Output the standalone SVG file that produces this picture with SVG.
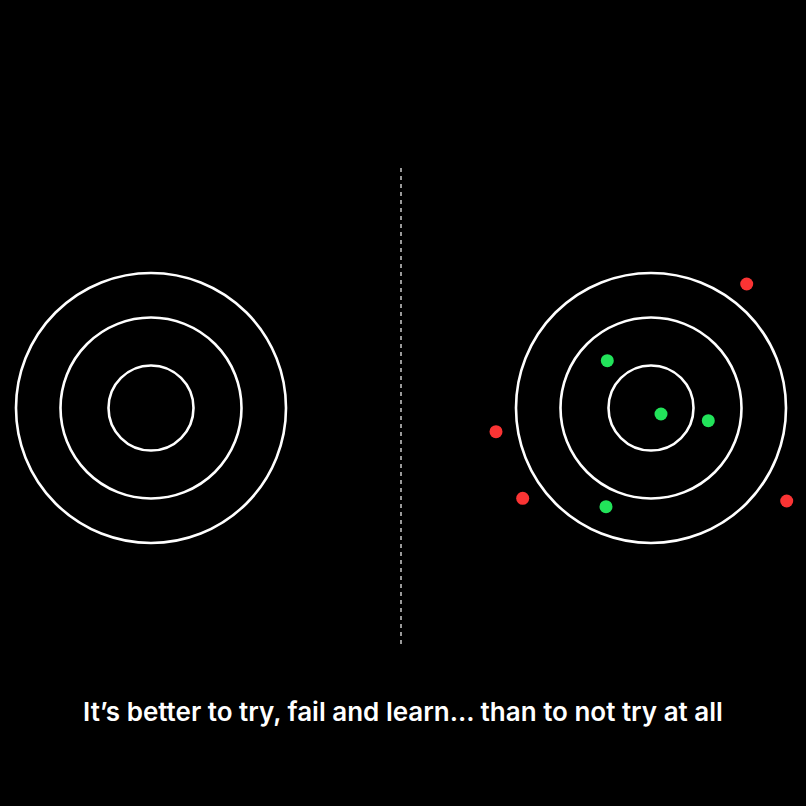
<svg xmlns="http://www.w3.org/2000/svg" width="806" height="806" viewBox="0 0 806 806">
<style>
.ring{fill:none;stroke:#ffffff;stroke-width:2.6}
.hit{fill:#22e35a}
.miss{fill:#fa3434}
.divider{stroke:#ffffff;stroke-width:1.2;stroke-dasharray:4 4}
.caption{font-family:Inter,"Noto Sans","Liberation Sans",sans-serif;font-size:26px;font-weight:600;fill:#ffffff}
</style>
<rect width="806" height="806" fill="#000000"/>
<g id="target-left">
<circle class="ring" cx="151" cy="408" r="135"/>
<circle class="ring" cx="151" cy="408" r="90.5"/>
<circle class="ring" cx="151" cy="408" r="42.5"/>
</g>
<g id="connectors">
<line class="divider" x1="401" y1="168" x2="401" y2="645"/>
</g>
<g id="target-right">
<circle class="ring" cx="651" cy="408" r="135"/>
<circle class="ring" cx="651" cy="408" r="90.5"/>
<circle class="ring" cx="651" cy="408" r="42.5"/>
</g>
<g id="hits">
<circle class="hit" cx="607.3" cy="360.7" r="6.5"/>
<circle class="hit" cx="661" cy="414" r="6.5"/>
<circle class="hit" cx="708.3" cy="420.7" r="6.5"/>
<circle class="hit" cx="606" cy="506.7" r="6.5"/>
</g>
<g id="misses">
<circle class="miss" cx="746.7" cy="284" r="6.5"/>
<circle class="miss" cx="496" cy="431.7" r="6.5"/>
<circle class="miss" cx="522.7" cy="498.3" r="6.5"/>
<circle class="miss" cx="786.7" cy="501" r="6.5"/>
</g>
<g id="caption">
<text class="caption" x="403" y="721" text-anchor="middle">It’s better to try, fail and learn... than to not try at all</text>
</g>
</svg>
